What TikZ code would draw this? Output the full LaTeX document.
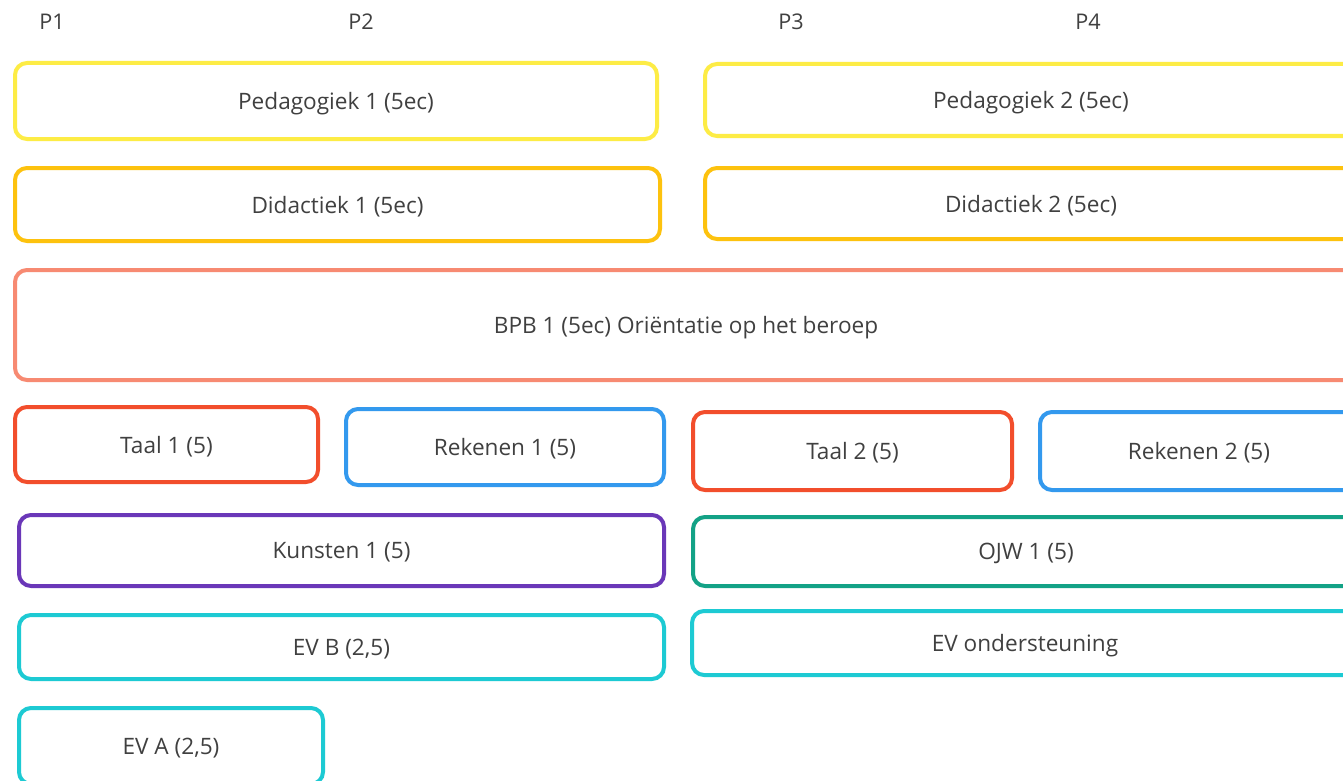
\documentclass[tikz,border=0pt]{standalone}
\usepackage{fontspec}
\setmainfont{Open Sans}
\usepackage{tikz}

\definecolor{pedcol}{HTML}{FDEC45}
\definecolor{didcol}{HTML}{FDC20E}
\definecolor{bpbcol}{HTML}{F78A72}
\definecolor{taalcol}{HTML}{F24E2C}
\definecolor{rekcol}{HTML}{3399EE}
\definecolor{kuncol}{HTML}{6A37B8}
\definecolor{ojwcol}{HTML}{13A286}
\definecolor{evcol}{HTML}{1DCAD3}
\definecolor{txtcol}{HTML}{404040}

\begin{document}
\begin{tikzpicture}[x=0.5pt,y=-0.5pt]
  \useasboundingbox (0,0) rectangle (1343,781);
  \fill[white] (0,0) rectangle (1343,781);
  \clip (0,0) rectangle (1343,781);

  \tikzset{vak/.style={draw=#1, line width=2pt, rounded corners=6pt, fill=white,
      text=txtcol, font=\fontsize{11.3}{13}\selectfont, inner sep=0pt, text depth=0pt}}

  % perioden
  \begin{scope}[every node/.style={text=txtcol, font=\fontsize{10.8}{12}\selectfont}]
      \node (p1) at (52,22) {P1};
      \node (p2) at (361,22) {P2};
      \node (p3) at (791,22) {P3};
      \node (p4) at (1088,22) {P4};
  \end{scope}

  \node[vak=pedcol, minimum width=321pt, minimum height=38pt] (ped1) at (336,101) {Pedagogiek 1 (5ec)};
  \node[vak=pedcol, minimum width=326pt, minimum height=36pt] (ped2) at (1031,100) {Pedagogiek 2 (5ec)};

  \node[vak=didcol, minimum width=322.5pt, minimum height=36.5pt] (did1) at (337.5,204.5) {Didactiek 1 (5ec)};
  \node[vak=didcol, minimum width=326pt, minimum height=35.5pt] (did2) at (1031,203.5) {Didactiek 2 (5ec)};

  \node[vak=bpbcol, minimum width=671pt, minimum height=55pt] (bpb1) at (686,325) {BPB 1 (5ec) Oriëntatie op het beroep};

  \node[vak=taalcol, minimum width=151.5pt, minimum height=37.5pt] (taal1) at (166.5,444.5) {Taal 1 (5)};
  \node[vak=rekcol, minimum width=159pt, minimum height=38pt] (rek1) at (505,447) {Rekenen 1 (5)};
  \node[vak=taalcol, minimum width=159.5pt, minimum height=39pt] (taal2) at (852.5,451) {Taal 2 (5)};
  \node[vak=rekcol, minimum width=159pt, minimum height=39pt] (rek2) at (1199,451) {Rekenen 2 (5)};

  \node[vak=kuncol, minimum width=322.5pt, minimum height=35.5pt] (kun1) at (341.5,550.5) {Kunsten 1 (5)};
  \node[vak=ojwcol, minimum width=333pt, minimum height=34.5pt] (ojw1) at (1026,551.5) {OJW 1 (5)};

  \node[vak=evcol, minimum width=322.5pt, minimum height=32pt] (evb) at (341.5,647) {EV B (2,5)};
  \node[vak=evcol, minimum width=333pt, minimum height=32pt] (evond) at (1025,643) {EV ondersteuning};

  \node[vak=evcol, minimum width=152pt, minimum height=38pt] (eva) at (171,746) {EV A (2,5)};

\end{tikzpicture}
\end{document}
